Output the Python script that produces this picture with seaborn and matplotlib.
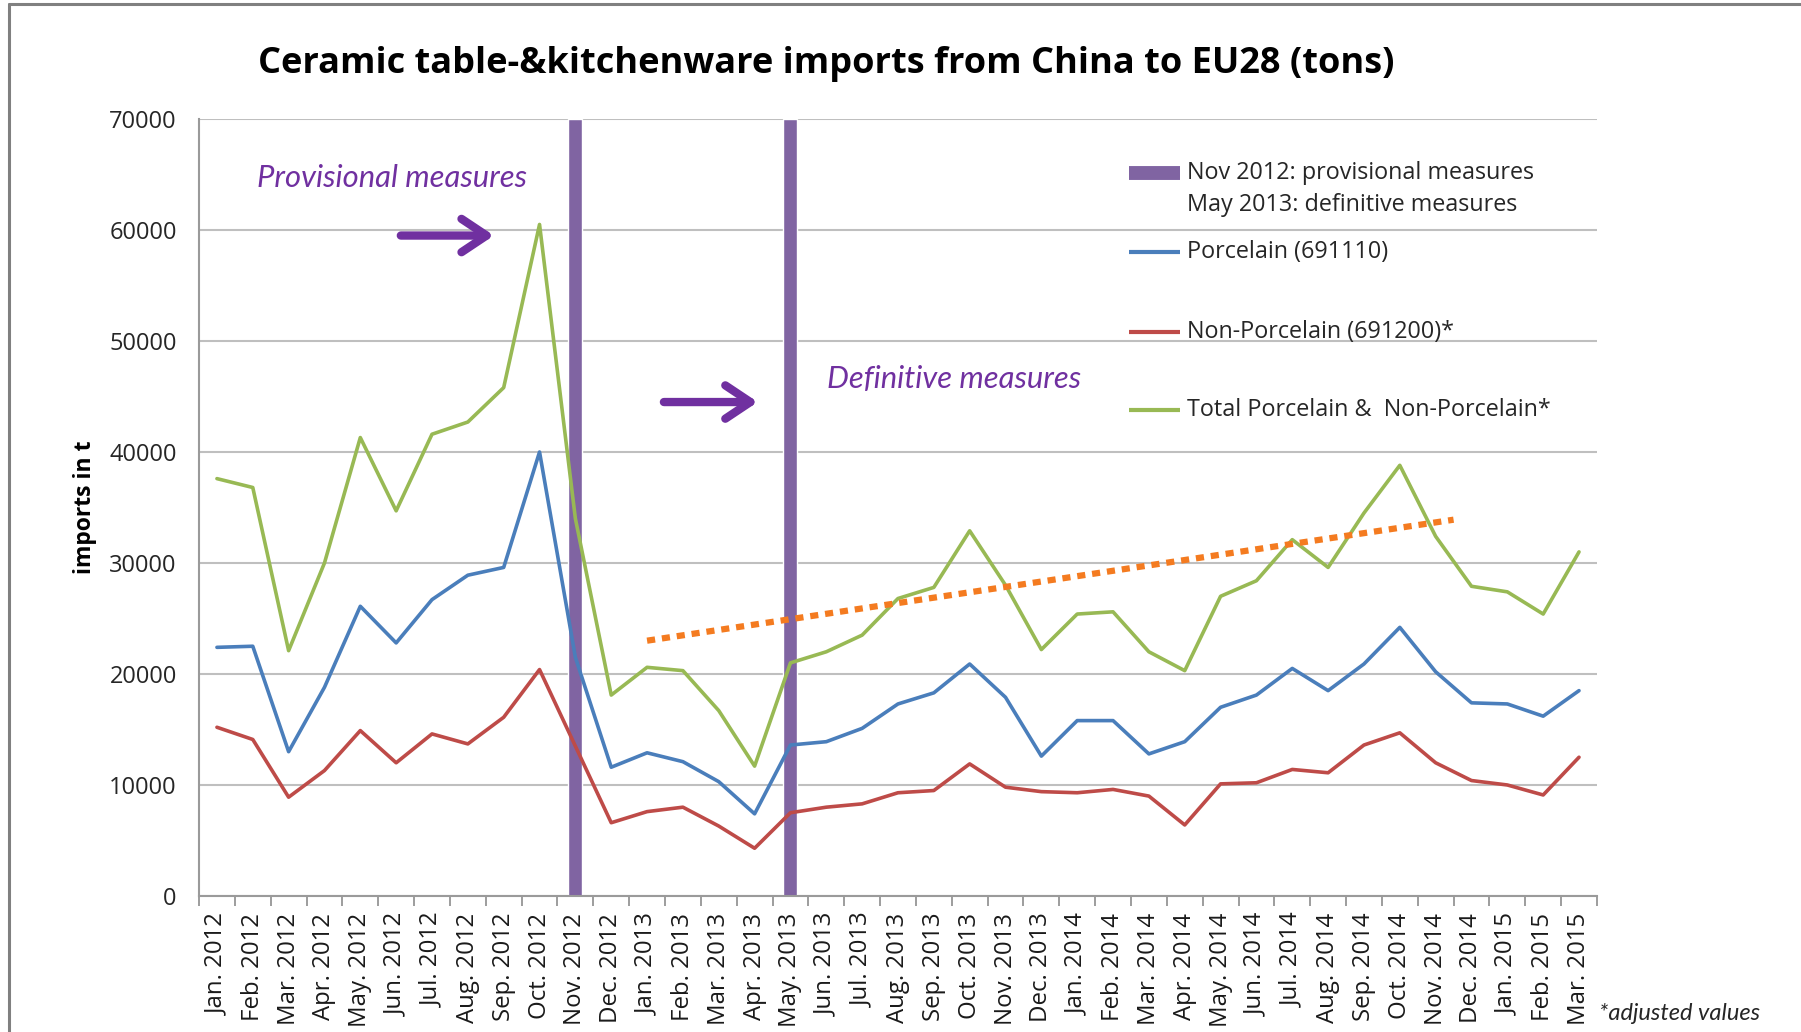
import matplotlib
matplotlib.use("Agg")
import matplotlib.pyplot as plt
from matplotlib.lines import Line2D
import seaborn as sns

# ===== Data =====
months = ["Jan. 2012", "Feb. 2012", "Mar. 2012", "Apr. 2012", "May. 2012", "Jun. 2012",
          "Jul. 2012", "Aug. 2012", "Sep. 2012", "Oct. 2012", "Nov. 2012", "Dec. 2012",
          "Jan. 2013", "Feb. 2013", "Mar. 2013", "Apr. 2013", "May. 2013", "Jun. 2013",
          "Jul. 2013", "Aug. 2013", "Sep. 2013", "Oct. 2013", "Nov. 2013", "Dec. 2013",
          "Jan. 2014", "Feb. 2014", "Mar. 2014", "Apr. 2014", "May. 2014", "Jun. 2014",
          "Jul. 2014", "Aug. 2014", "Sep. 2014", "Oct. 2014", "Nov. 2014", "Dec. 2014",
          "Jan. 2015", "Feb. 2015", "Mar. 2015"]

porcelain = [22400, 22500, 13000, 18800, 26100, 22800, 26700, 28900, 29600, 40000, 21500, 11600,
             12900, 12100, 10300, 7400, 13600, 13900, 15100, 17300, 18300, 20900, 17900, 12600,
             15800, 15800, 12800, 13900, 17000, 18100, 20500, 18500, 20900, 24200, 20200, 17400,
             17300, 16200, 18500]

non_porcelain = [15200, 14100, 8900, 11300, 14900, 12000, 14600, 13700, 16100, 20400, 13500, 6600,
                 7600, 8000, 6300, 4300, 7500, 8000, 8300, 9300, 9500, 11900, 9800, 9400,
                 9300, 9600, 9000, 6400, 10100, 10200, 11400, 11100, 13600, 14700, 12000, 10400,
                 10000, 9100, 12500]

total = [37600, 36800, 22100, 30000, 41300, 34700, 41600, 42700, 45800, 60500, 34000, 18100,
         20600, 20300, 16700, 11700, 21000, 22000, 23500, 26800, 27800, 32900, 28000, 22200,
         25400, 25600, 22000, 20300, 27000, 28400, 32100, 29600, 34500, 38800, 32400, 27900,
         27400, 25400, 31000]

# measure months (Nov 2012, May 2013) drawn as full-height bars
measure_idx = [10, 16]
measure_height = [70000, 70000]

# hand drawn trend line (start / end)
trend_x = [12.0, 34.5]
trend_y = [23000, 33900]

x = list(range(len(months)))

# ===== Style =====
sns.set_theme(style="white")
plt.rcParams["font.family"] = ["Open Sans", "DejaVu Sans"]

BLUE = "#4A7EBB"
RED = "#BE4B48"
GREEN = "#98B954"
PURPLE_BAR = "#8064A2"
PURPLE_TXT = "#7030A0"
ORANGE = "#F47B20"
GRID = "#BFBFBF"
ITALIC = ["Lato", "DejaVu Sans"]

fig = plt.figure(figsize=(18.01, 10.32), dpi=100)
ax = fig.add_axes([0.1105, 0.1318, 0.7762, 0.7529])

# ===== Plot =====
ax.bar(measure_idx, measure_height, width=0.39, color=PURPLE_BAR, zorder=2)
sns.lineplot(x=x, y=porcelain, color=BLUE, lw=2.6, ax=ax, zorder=3)
sns.lineplot(x=x, y=non_porcelain, color=RED, lw=2.6, ax=ax, zorder=3)
sns.lineplot(x=x, y=total, color=GREEN, lw=2.6, ax=ax, zorder=3)
ax.plot(trend_x, trend_y, color=ORANGE, lw=4.5, linestyle=(0, (1.3, 1.1)),
        dash_capstyle="butt", zorder=4)

# ===== Axes =====
ax.set_xlim(-0.5, len(months) - 0.5)
ax.set_ylim(0, 70000)
ax.set_yticks(range(0, 70001, 10000))
ax.set_yticklabels([str(v) for v in range(0, 70001, 10000)])
ax.set_xticks(x)
ax.set_xticklabels(months, rotation=90)
ax.set_xticks([i - 0.5 for i in range(len(months) + 1)], minor=True)
ax.tick_params(axis="x", which="major", length=0, pad=12, labelsize=17.3, labelcolor="#1a1a1a")
ax.tick_params(axis="x", which="minor", length=7, width=1.2, color="#8c8c8c", bottom=True)
ax.tick_params(axis="y", length=0, pad=16, labelsize=17, labelcolor="#262626")
ax.grid(axis="y", color=GRID, lw=1.5)
ax.set_axisbelow(True)
for s in ["top", "right"]:
    ax.spines[s].set_visible(False)
for s in ["left", "bottom"]:
    ax.spines[s].set_color("#9a9a9a")
    ax.spines[s].set_linewidth(1.5)

ax.set_ylabel("imports in t", fontsize=16.5, fontweight="bold", color="black")
ax.yaxis.set_label_coords(-0.073, 0.5)

# ===== Annotations =====
ax.text(1.12, 64700, "Provisional measures", color=PURPLE_TXT, fontsize=22.3,
        style="italic", family=ITALIC, va="center", ha="left")
ax.text(17.02, 46600, "Definitive measures", color=PURPLE_TXT, fontsize=22.3,
        style="italic", family=ITALIC, va="center", ha="left")
for (x0, x1, yv) in [(5.13, 7.73, 59500), (12.47, 15.09, 44500)]:
    ax.annotate("", xy=(x1, yv), xytext=(x0, yv),
                arrowprops=dict(arrowstyle="->,head_length=0.9,head_width=0.6",
                                mutation_scale=20, color=PURPLE_TXT, lw=6,
                                shrinkA=0, shrinkB=0))

# ===== Legend (drawn Excel-style) =====
lx0, lx1, tx = 0.665, 0.702, 0.707
ax.plot([lx0, lx1], [0.930, 0.930], transform=ax.transAxes, color=PURPLE_BAR, lw=10,
        solid_capstyle="butt", zorder=5)
ax.text(tx, 0.930, "Nov 2012: provisional measures", transform=ax.transAxes,
        fontsize=16.8, va="center", ha="left", color="#262626")
ax.text(tx, 0.889, "May 2013: definitive measures", transform=ax.transAxes,
        fontsize=16.8, va="center", ha="left", color="#262626")
for yv, col, lab in [(0.829, BLUE, "Porcelain (691110)"),
                     (0.726, RED, "Non-Porcelain (691200)*"),
                     (0.626, GREEN, "Total Porcelain &  Non-Porcelain*")]:
    ax.plot([lx0, lx1], [yv, yv], transform=ax.transAxes, color=col, lw=3,
            solid_capstyle="butt", zorder=5)
    ax.text(tx, yv, lab, transform=ax.transAxes, fontsize=16.8, va="center",
            ha="left", color="#262626")

# ===== Title / notes =====
fig.text(0.459, 0.938, "Ceramic table-&kitchenware imports from China to EU28 (tons)",
         fontsize=26, fontweight="bold", ha="center", va="center", color="black")
fig.text(0.888, 0.012, "*adjusted values", fontsize=17, style="italic",
         family=ITALIC, ha="left", va="baseline", color="#262626")

# chart frame (left / top edge)
fig.add_artist(Line2D([9 / 1801, 9 / 1801], [0, 1 - 4 / 1032], color="#808080", lw=2.2))
fig.add_artist(Line2D([9 / 1801, 1], [1 - 4 / 1032, 1 - 4 / 1032], color="#808080", lw=2.2))

fig.savefig("out.png", dpi=100)
